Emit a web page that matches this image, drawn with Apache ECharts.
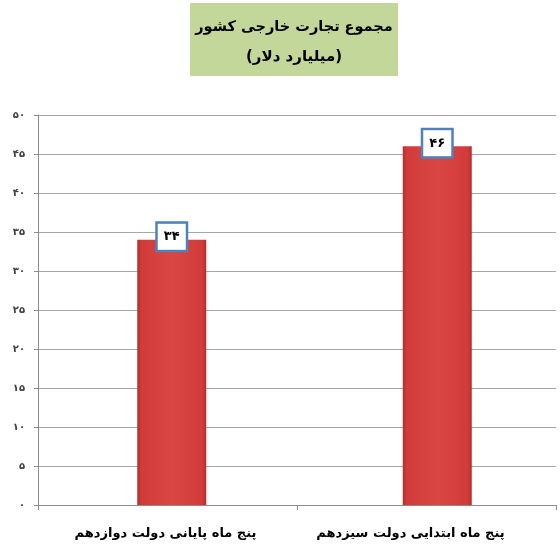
<!DOCTYPE html>
<html><head><meta charset="utf-8">
<script src="https://cdn.jsdelivr.net/npm/echarts@6/dist/echarts.min.js"></script>
<style>html,body{margin:0;padding:0;background:#fff}#c{width:560px;height:553px}</style>
</head><body><div id="c"></div>
<script>
const titleLines = ['مجموع تجارت خارجی کشور', '(میلیارد دلار)'];
const categories = ['پنج ماه پایانی دولت دوازدهم', 'پنج ماه ابتدایی دولت سیزدهم'];
const values = [34, 46];
const valueLabels = ['۳۴', '۴۶'];
const yTickLabels = {0:'۰',5:'۵',10:'۱۰',15:'۱۵',20:'۲۰',25:'۲۵',30:'۳۰',35:'۳۵',40:'۴۰',45:'۴۵',50:'۵۰'};

const FONT = "'DejaVu Sans', sans-serif";
const labelShift = [4, 32];
const chart = echarts.init(document.getElementById('c'));
chart.setOption({
  animation: false,
  backgroundColor: '#fff',
  grid: [
    {left: 38, right: 4, top: 115, bottom: 48},
    {left: 39, width: 531, top: 115, bottom: 48, outerBoundsMode: 'none'}
  ],
  graphic: [
    {type: 'rect', shape: {x: 190, y: 3, width: 208, height: 73}, style: {fill: '#c4d79b'}},
    {type: 'text', x: 294, y: 27, style: {text: titleLines[0], font: 'bold 14.5px ' + FONT, fill: '#000', align: 'center', verticalAlign: 'middle'}},
    {type: 'text', x: 294, y: 57, style: {text: titleLines[1], font: 'bold 15px ' + FONT, fill: '#000', align: 'center', verticalAlign: 'middle'}}
  ],
  xAxis: [{
    type: 'category', gridIndex: 0,
    data: categories.map((c, i) => ({value: c, textStyle: {padding: [0, labelShift[i], 0, 0]}})),
    axisLine: {lineStyle: {color: '#8c8c8c', width: 1}},
    axisTick: {show: true, length: 5, lineStyle: {color: '#8c8c8c'}},
    axisLabel: {interval: 0, fontFamily: FONT, fontWeight: 'bold', fontSize: 13, color: '#000', margin: 22}
  }, {
    type: 'category', gridIndex: 1, data: categories, show: false
  }],
  yAxis: [{
    type: 'value', gridIndex: 0, min: 0, max: 50, interval: 5,
    axisLine: {show: true, lineStyle: {color: '#8c8c8c'}},
    axisTick: {show: true, length: 4, lineStyle: {color: '#8c8c8c'}},
    splitLine: {lineStyle: {color: '#a6a6a6', width: 1}},
    axisLabel: {fontFamily: FONT, fontWeight: 'bold', fontSize: 10, color: '#404040', margin: 13,
      formatter: v => yTickLabels[v] !== undefined ? yTickLabels[v] : String(v)}
  }, {
    type: 'value', gridIndex: 1, min: 0, max: 50, interval: 5, show: false, splitLine: {show: false}
  }],
  series: [{
    type: 'bar', xAxisIndex: 1, yAxisIndex: 1, data: values, barWidth: 69,
    itemStyle: {
      color: new echarts.graphic.LinearGradient(0, 0, 1, 0, [
        {offset: 0, color: '#b32e2d'}, {offset: 0.06, color: '#d13c3b'},
        {offset: 0.5, color: '#da4644'}, {offset: 0.94, color: '#d13c3b'},
        {offset: 1, color: '#b32e2d'}
      ])
    },
    label: {
      show: true, position: 'top', distance: 3,
      formatter: p => valueLabels[p.dataIndex],
      fontFamily: FONT, fontWeight: 'bold', fontSize: 13, color: '#000',
      backgroundColor: '#fff', borderColor: '#4f81bd', borderWidth: 2.5,
      width: 28, height: 26, align: 'center', verticalAlign: 'middle', lineHeight: 26
    }
  }]
});
</script></body></html>
